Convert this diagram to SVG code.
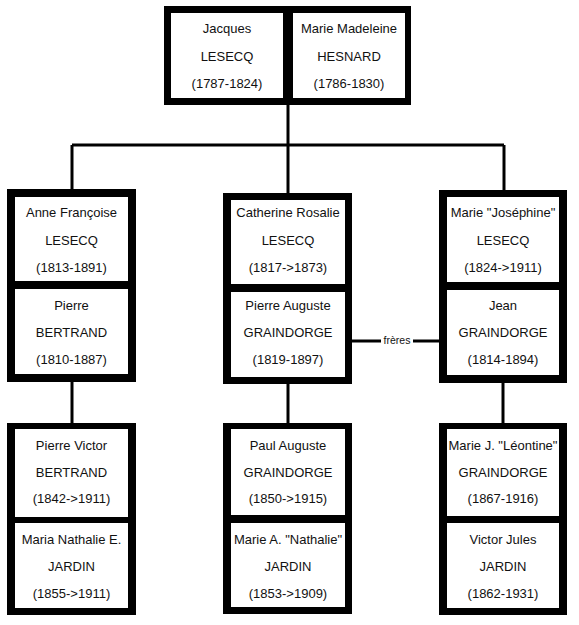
<svg xmlns="http://www.w3.org/2000/svg" width="579" height="625" viewBox="0 0 579 625">
<style>
.frame{fill:#000}
.card{fill:#fff}
.t{font-family:"Liberation Sans",Arial,sans-serif;font-size:13px;text-anchor:middle;fill:#111}
.lbl{font-family:"Liberation Sans",Arial,sans-serif;font-size:10.5px;text-anchor:middle;fill:#111}
.ln{stroke:#000;stroke-width:3;fill:none}
</style>
<rect width="579" height="625" fill="#fff"/>
<g id="connectors">
<path class="ln" d="M288 105V193"/>
<path class="ln" d="M72 145H504" stroke-width="2.5"/>
<path class="ln" d="M72 145V189"/>
<path class="ln" d="M504 145V190"/>
<path class="ln" d="M72 382V423"/>
<path class="ln" d="M288 384V423"/>
<path class="ln" d="M503 383V423"/>
<path class="ln" d="M352 341H381M413 341H439" stroke-width="2.5"/>
<text class="lbl" x="397" y="344">frères</text>
</g>
<g id="couple-lesecq-hesnard">
<rect class="frame" x="164" y="6" width="247" height="99"/>
<g id="jacques-lesecq">
<rect class="card" x="171" y="13" width="112" height="85"/>
<text class="t" x="227" y="33">Jacques</text>
<text class="t" x="227" y="61">LESECQ</text>
<text class="t" x="227" y="88">(1787-1824)</text>
</g>
<g id="marie-madeleine-hesnard">
<rect class="card" x="293" y="13" width="112" height="85"/>
<text class="t" x="349" y="33">Marie Madeleine</text>
<text class="t" x="349" y="61">HESNARD</text>
<text class="t" x="349" y="88">(1786-1830)</text>
</g>
</g>
<g id="couple-lesecq-bertrand">
<rect class="frame" x="7" y="189" width="129" height="193"/>
<g id="anne-francoise-lesecq">
<rect class="card" x="15" y="197" width="113" height="84"/>
<text class="t" x="71.5" y="217">Anne Françoise</text>
<text class="t" x="71.5" y="245">LESECQ</text>
<text class="t" x="71.5" y="272">(1813-1891)</text>
</g>
<g id="pierre-bertrand">
<rect class="card" x="15" y="289" width="113" height="85"/>
<text class="t" x="71.5" y="310">Pierre</text>
<text class="t" x="71.5" y="337">BERTRAND</text>
<text class="t" x="71.5" y="364">(1810-1887)</text>
</g>
</g>
<g id="couple-lesecq-graindorge-1">
<rect class="frame" x="223" y="193" width="129" height="191"/>
<g id="catherine-rosalie-lesecq">
<rect class="card" x="231" y="200" width="114" height="84"/>
<text class="t" x="288" y="217">Catherine Rosalie</text>
<text class="t" x="288" y="245">LESECQ</text>
<text class="t" x="288" y="272">(1817-&gt;1873)</text>
</g>
<g id="pierre-auguste-graindorge">
<rect class="card" x="231" y="292" width="114" height="85"/>
<text class="t" x="288" y="310">Pierre Auguste</text>
<text class="t" x="288" y="337">GRAINDORGE</text>
<text class="t" x="288" y="364">(1819-1897)</text>
</g>
</g>
<g id="couple-lesecq-graindorge-2">
<rect class="frame" x="439" y="190" width="128" height="193"/>
<g id="marie-josephine-lesecq">
<rect class="card" x="447" y="197" width="112" height="85"/>
<text class="t" x="503" y="217">Marie "Joséphine"</text>
<text class="t" x="503" y="245">LESECQ</text>
<text class="t" x="503" y="272">(1824-&gt;1911)</text>
</g>
<g id="jean-graindorge">
<rect class="card" x="447" y="290" width="112" height="85"/>
<text class="t" x="503" y="310">Jean</text>
<text class="t" x="503" y="337">GRAINDORGE</text>
<text class="t" x="503" y="364">(1814-1894)</text>
</g>
</g>
<g id="couple-bertrand-jardin">
<rect class="frame" x="7" y="423" width="129" height="192"/>
<g id="pierre-victor-bertrand">
<rect class="card" x="15" y="429" width="113" height="88"/>
<text class="t" x="71.5" y="450">Pierre Victor</text>
<text class="t" x="71.5" y="477">BERTRAND</text>
<text class="t" x="71.5" y="503">(1842-&gt;1911)</text>
</g>
<g id="maria-nathalie-jardin">
<rect class="card" x="15" y="523" width="113" height="85"/>
<text class="t" x="71.5" y="544">Maria Nathalie E.</text>
<text class="t" x="71.5" y="571">JARDIN</text>
<text class="t" x="71.5" y="598">(1855-&gt;1911)</text>
</g>
</g>
<g id="couple-graindorge-jardin-1">
<rect class="frame" x="223" y="423" width="129" height="191"/>
<g id="paul-auguste-graindorge">
<rect class="card" x="231" y="429" width="114" height="86"/>
<text class="t" x="288" y="450">Paul Auguste</text>
<text class="t" x="288" y="477">GRAINDORGE</text>
<text class="t" x="288" y="503">(1850-&gt;1915)</text>
</g>
<g id="marie-nathalie-jardin">
<rect class="card" x="231" y="523" width="114" height="84"/>
<text class="t" x="288" y="544">Marie A. "Nathalie"</text>
<text class="t" x="288" y="571">JARDIN</text>
<text class="t" x="288" y="598">(1853-&gt;1909)</text>
</g>
</g>
<g id="couple-graindorge-jardin-2">
<rect class="frame" x="439" y="423" width="128" height="192"/>
<g id="marie-leontine-graindorge">
<rect class="card" x="447" y="429" width="112" height="87"/>
<text class="t" x="503" y="450">Marie J. "Léontine"</text>
<text class="t" x="503" y="477">GRAINDORGE</text>
<text class="t" x="503" y="503">(1867-1916)</text>
</g>
<g id="victor-jules-jardin">
<rect class="card" x="447" y="523" width="112" height="85"/>
<text class="t" x="503" y="544">Victor Jules</text>
<text class="t" x="503" y="571">JARDIN</text>
<text class="t" x="503" y="598">(1862-1931)</text>
</g>
</g>
</svg>
